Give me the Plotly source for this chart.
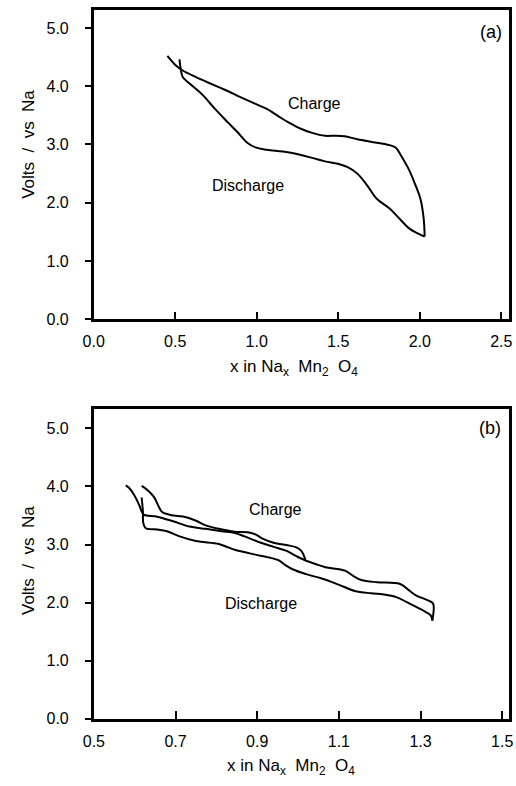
import plotly.graph_objects as go

# ---- Panel (a): first cycle of Na_x Mn2 O4 ----
a_charge_x = [2.030, 2.024, 2.004, 1.974, 1.935, 1.885, 1.855, 1.825, 1.736, 1.617,
              1.538, 1.478, 1.419, 1.339, 1.270, 1.200, 1.141, 1.062, 0.982, 0.903,
              0.804, 0.704, 0.625, 0.546, 0.506, 0.452]
a_charge_y = [1.42, 1.73, 2.07, 2.30, 2.56, 2.81, 2.94, 2.98, 3.03, 3.09,
              3.14, 3.15, 3.15, 3.20, 3.27, 3.37, 3.47, 3.61, 3.71, 3.81,
              3.94, 4.06, 4.16, 4.27, 4.35, 4.52]

a_discharge_x = [0.526, 0.536, 0.546, 0.595, 0.665, 0.744, 0.823, 0.883, 0.942, 0.992,
                 1.062, 1.161, 1.240, 1.339, 1.419, 1.498, 1.558, 1.617, 1.677, 1.736,
                 1.815, 1.875, 1.935, 1.984, 2.030]
a_discharge_y = [4.46, 4.26, 4.16, 4.03, 3.86, 3.61, 3.38, 3.21, 3.03, 2.95,
                 2.91, 2.88, 2.84, 2.77, 2.71, 2.67, 2.61, 2.50, 2.30, 2.07,
                 1.90, 1.73, 1.56, 1.48, 1.42]

# ---- Panel (b): restricted cycling window ----
b_discharge1_x = [0.617, 0.620, 0.621, 0.627, 0.655, 0.679, 0.710, 0.750, 0.806, 0.829,
                  0.845, 0.893, 0.933, 0.952, 0.968, 0.988, 1.020, 1.060, 1.099, 1.139,
                  1.179, 1.210, 1.242, 1.282, 1.310, 1.325, 1.329]
b_discharge1_y = [3.81, 3.57, 3.37, 3.28, 3.26, 3.23, 3.14, 3.06, 3.01, 2.95,
                  2.91, 2.83, 2.77, 2.73, 2.65, 2.57, 2.49, 2.41, 2.31, 2.20,
                  2.16, 2.14, 2.09, 1.95, 1.85, 1.78, 1.69]

b_charge_x = [1.329, 1.331, 1.321, 1.290, 1.274, 1.250, 1.194, 1.155, 1.135, 1.115,
              1.067, 1.044, 1.020, 0.996, 0.972, 0.940, 0.909, 0.869, 0.845, 0.813,
              0.774, 0.734, 0.694, 0.655, 0.623, 0.617, 0.611, 0.599, 0.587, 0.578]
b_charge_y = [1.69, 1.98, 2.03, 2.12, 2.20, 2.32, 2.35, 2.39, 2.46, 2.55,
              2.61, 2.66, 2.72, 2.80, 2.89, 2.96, 3.03, 3.14, 3.20, 3.23,
              3.27, 3.31, 3.40, 3.48, 3.51, 3.57, 3.68, 3.85, 3.97, 4.02]

b_discharge2_x = [0.617, 0.631, 0.647, 0.659, 0.667, 0.687, 0.726, 0.750, 0.774, 0.806,
                  0.845, 0.877, 0.897, 0.913, 0.940, 0.972, 0.996, 1.008, 1.018]
b_discharge2_y = [4.01, 3.94, 3.82, 3.65, 3.56, 3.51, 3.47, 3.41, 3.33, 3.27,
                  3.22, 3.21, 3.17, 3.10, 3.03, 2.99, 2.95, 2.89, 2.74]

a_xticks = [0.0, 0.5, 1.0, 1.5, 2.0, 2.5]
b_xticks = [0.5, 0.7, 0.9, 1.1, 1.3, 1.5]
y_ticks = [0.0, 1.0, 2.0, 3.0, 4.0, 5.0]

W, H = 516, 786
FONT = "Liberation Sans, Arial, Helvetica, sans-serif"
line = dict(color="black", width=2)


def px(x):
    return x / W


def py(y):
    return 1 - y / H


fig = go.Figure()
fig.add_trace(go.Scatter(x=a_charge_x, y=a_charge_y, mode="lines", line=line,
                         line_shape="spline", xaxis="x", yaxis="y"))
fig.add_trace(go.Scatter(x=a_discharge_x, y=a_discharge_y, mode="lines", line=line,
                         line_shape="spline", xaxis="x", yaxis="y"))
fig.add_trace(go.Scatter(x=b_discharge1_x, y=b_discharge1_y, mode="lines", line=line,
                         line_shape="spline", xaxis="x2", yaxis="y2"))
fig.add_trace(go.Scatter(x=b_charge_x, y=b_charge_y, mode="lines", line=line,
                         line_shape="spline", xaxis="x2", yaxis="y2"))
fig.add_trace(go.Scatter(x=b_discharge2_x, y=b_discharge2_y, mode="lines", line=line,
                         line_shape="spline", xaxis="x2", yaxis="y2"))

xcommon = dict(showline=True, linewidth=2.5, linecolor="black", mirror=True,
               ticks="inside", ticklen=8, tickwidth=2, tickcolor="black",
               showgrid=False, zeroline=False, tickformat=".1f",
               ticklabelstandoff=6,
               tickfont=dict(family=FONT, size=16, color="black"))
ycommon = dict(showline=True, linewidth=2.5, linecolor="black", mirror=True,
               ticks="outside", ticklen=6, tickwidth=2, tickcolor="black",
               showgrid=False, zeroline=False, tickformat=".1f",
               tickvals=y_ticks, ticklabelstandoff=13,
               tickfont=dict(family=FONT, size=16, color="black"))

fig.update_layout(
    width=W, height=H,
    margin=dict(l=0, r=0, t=0, b=0),
    paper_bgcolor="white", plot_bgcolor="white",
    showlegend=False,
    font=dict(family=FONT, size=16, color="black"),
    xaxis=dict(domain=[px(85), px(512)], range=[0, 2.548], tickvals=a_xticks,
               anchor="y", **xcommon),
    yaxis=dict(domain=[py(323), py(10)], range=[0, 5.31], anchor="x", **ycommon),
    xaxis2=dict(domain=[px(85), px(512)], range=[0.4995, 1.517], tickvals=b_xticks,
                anchor="y2", **xcommon),
    yaxis2=dict(domain=[py(727), py(414)], range=[0, 5.33], anchor="x2", **ycommon),
)

xtitle = "x in Na<sub>x</sub>\u00a0 Mn<sub>2</sub>\u00a0 O<sub>4</sub>"
ytitle = "Volts\u00a0 /\u00a0 vs\u00a0 Na"
texts = [
    ("(a)", 493, 32, 18, 0),
    ("Charge", 312, 105, 16, 0),
    ("Discharge", 244, 188, 16, 0),
    (xtitle, 291, 372, 17, 0),
    (ytitle, 18, 146, 17, -90),
    ("(b)", 492, 433, 18, 0),
    ("Charge", 272, 515, 16, 0),
    ("Discharge", 257, 610, 16, 0),
    (xtitle, 288, 776, 17, 0),
    (ytitle, 18, 567, 17, -90),
]
for t, x, y, s, ang in texts:
    fig.add_annotation(text=t, x=px(x), y=py(y), xref="paper", yref="paper",
                       xanchor="center", yanchor="middle", showarrow=False,
                       textangle=ang, font=dict(family=FONT, size=s, color="black"))

fig.write_html("out.html")
